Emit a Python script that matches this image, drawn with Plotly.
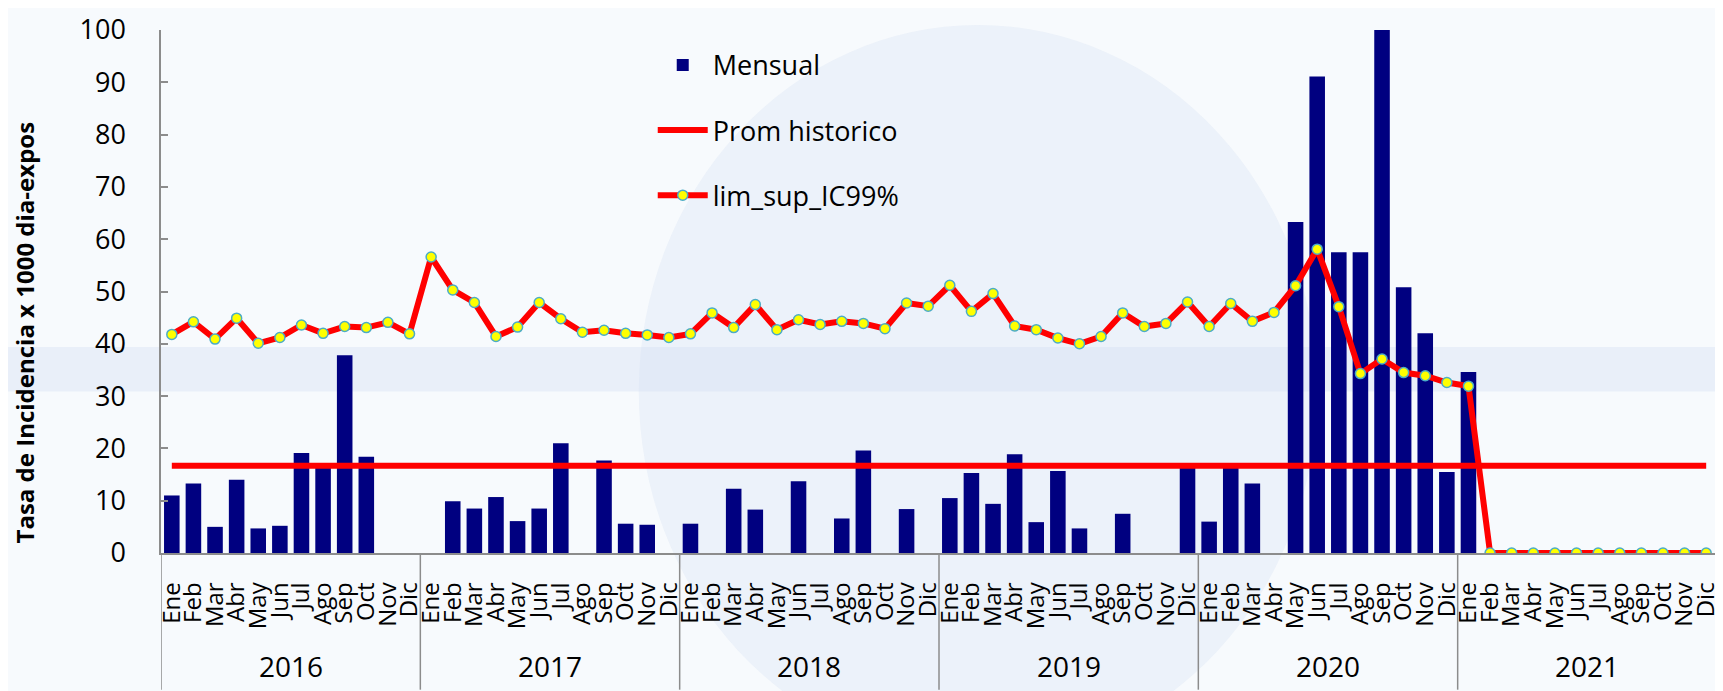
import plotly.graph_objects as go

years = ["2016", "2017", "2018", "2019", "2020", "2021"]
months = ["Ene", "Feb", "Mar", "Abr", "May", "Jun", "Jul", "Ago", "Sep", "Oct", "Nov", "Dic"]

mensual_2016 = [11.0, 13.3, 5.0, 14.0, 4.7, 5.2, 19.1, 16.5, 37.8, 18.4, 0, 0]
mensual_2017 = [0, 9.9, 8.5, 10.7, 6.1, 8.5, 21.0, 0, 17.7, 5.6, 5.4, 0]
mensual_2018 = [5.6, 0, 12.3, 8.3, 0, 13.7, 0, 6.6, 19.6, 0, 8.4, 0]
mensual_2019 = [10.5, 15.3, 9.4, 18.9, 5.9, 15.7, 4.7, 0, 7.5, 0, 0, 16.5]
mensual_2020 = [6.0, 16.5, 13.3, 0, 63.3, 91.1, 57.5, 57.5, 100.0, 50.8, 42.0, 15.5]
mensual_2021 = [34.6, 0, 0, 0, 0, 0, 0, 0, 0, 0, 0, 0]

lim_2016 = [41.8, 44.2, 40.9, 44.9, 40.1, 41.2, 43.6, 42.0, 43.3, 43.1, 44.1, 41.9]
lim_2017 = [56.6, 50.3, 47.9, 41.4, 43.2, 47.9, 44.8, 42.2, 42.6, 42.0, 41.7, 41.2]
lim_2018 = [41.9, 45.9, 43.1, 47.5, 42.7, 44.6, 43.7, 44.3, 43.9, 42.9, 47.8, 47.2]
lim_2019 = [51.2, 46.2, 49.6, 43.4, 42.7, 41.1, 40.0, 41.4, 45.9, 43.3, 43.9, 48.0]
lim_2020 = [43.3, 47.7, 44.3, 46.0, 51.1, 58.1, 47.1, 34.3, 37.1, 34.5, 33.9, 32.6]
lim_2021 = [31.9, 0, 0, 0, 0, 0, 0, 0, 0, 0, 0, 0]

prom_historico = 16.7

mensual = mensual_2016 + mensual_2017 + mensual_2018 + mensual_2019 + mensual_2020 + mensual_2021
lim_sup = lim_2016 + lim_2017 + lim_2018 + lim_2019 + lim_2020 + lim_2021
n = len(mensual)
xs = list(range(n))
month_labels = [months[i % 12] for i in xs]
prom = [prom_historico] * n

# page body has an 8px margin; compensate so the figure fills the 1723x691 window
OFF = 8
W, H = 1723 - OFF, 691 - OFF
ML, MR, MT, MB = 161 - OFF, 2, 25 - OFF, 138
plot_h = H - MT - MB
plot_w = W - ML - MR

fig = go.Figure()
fig.add_trace(go.Bar(x=xs, y=mensual, name="Mensual",
                     marker=dict(color="#000080", line=dict(width=0)),
                     width=0.72, legendgroup="a"))
fig.add_trace(go.Scatter(x=xs, y=prom, name="Prom historico", mode="lines",
                         line=dict(color="#ff0000", width=6), legendgroup="b"))
fig.add_trace(go.Scatter(x=xs, y=lim_sup, name="lim_sup_IC99%", mode="lines+markers",
                         line=dict(color="#ff0000", width=6),
                         marker=dict(color="#ffff00", size=10, line=dict(color="#4bacc6", width=1.5)),
                         legendgroup="c"))


def px_x(p):
    return (p - (ML + OFF)) / plot_w


def px_y(p):
    return ((MT + OFF + plot_h) - p) / plot_h


shapes = []
wm = "rgba(215,226,243,0.45)"
shapes.append(dict(type="rect", xref="paper", yref="paper", x0=px_x(0), x1=px_x(1723),
                   y0=px_y(390), y1=px_y(345), fillcolor=wm, line=dict(width=0), layer="below"))
shapes.append(dict(type="circle", xref="paper", yref="paper",
                   x0=px_x(640), x1=px_x(1320), y0=px_y(760), y1=px_y(20),
                   fillcolor="rgba(215,226,243,0.35)", line=dict(width=0), layer="below"))

# year dividers
for k in range(len(years) + 1):
    shapes.append(dict(type="line", xref="x", yref="paper", x0=12 * k - 0.5, x1=12 * k - 0.5,
                       y0=0, y1=-MB / plot_h, line=dict(color="#8c8c8c", width=1.5)))

annotations = []
for k, yr in enumerate(years):
    annotations.append(dict(x=12 * k + 5.5, y=px_y(667), xref="x", yref="paper",
                            text=yr, showarrow=False, font=dict(family="Open Sans", size=28, color="black"),
                            yanchor="middle"))
annotations.append(dict(x=px_x(24), y=px_y(330), xref="paper", yref="paper",
                        text="<b>Tasa de Incidencia x 1000 dia-expos</b>", textangle=-90,
                        showarrow=False, xanchor="center", yanchor="middle",
                        font=dict(family="Open Sans", size=24, color="black")))

fig.update_layout(
    width=W, height=H,
    margin=dict(l=ML, r=MR, t=MT, b=MB),
    paper_bgcolor="#f7fafd", plot_bgcolor="rgba(0,0,0,0)",
    showlegend=True,
    legend=dict(x=px_x(654), y=px_y(36), xanchor="left", yanchor="top", bgcolor="rgba(0,0,0,0)",
                font=dict(family="Open Sans", size=27, color="black"),
                itemwidth=50, tracegroupgap=27, traceorder="grouped"),
    xaxis=dict(range=[-0.5, n - 0.5], tickmode="array", tickvals=xs, ticktext=month_labels,
               tickangle=-90, showline=True, linecolor="#8c8c8c", linewidth=1.5,
               ticks="outside", ticklen=18, tickcolor="rgba(0,0,0,0)",
               showgrid=False, zeroline=False, ticklabeloverflow="allow",
               tickfont=dict(family="Open Sans", size=24, color="black")),
    yaxis=dict(range=[0, 100], dtick=10, showline=True, linecolor="#8c8c8c", linewidth=1.5,
               ticks="inside", ticklen=7, tickcolor="#8c8c8c", tickwidth=1.5, showgrid=False, zeroline=False,
               ticklabelstandoff=28, ticklabeloverflow="allow",
               tickfont=dict(family="Open Sans", size=27, color="black")),
    shapes=shapes, annotations=annotations,
)

fig.write_html("out.html")
